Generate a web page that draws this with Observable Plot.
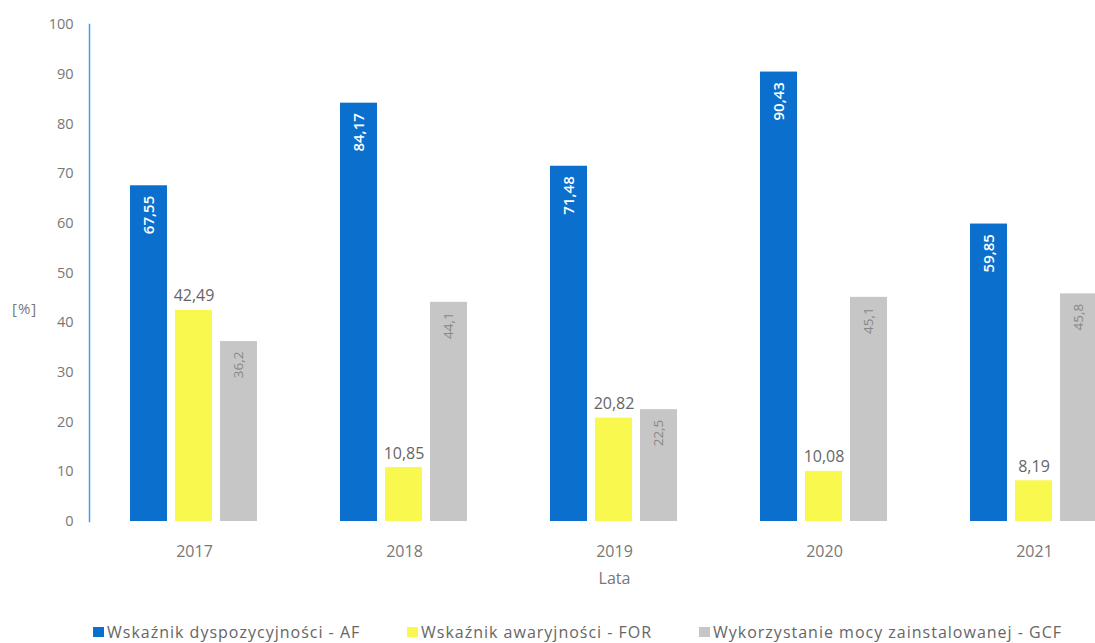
<!DOCTYPE html>
<html>
<head>
<meta charset="utf-8">
<script src="https://cdn.jsdelivr.net/npm/d3@7"></script>
<script src="https://cdn.jsdelivr.net/npm/@observablehq/plot@0.6"></script>
<style>
  body { margin: 0; background: #fff; font-family: "Open Sans", sans-serif; }
  #wrap { position: relative; width: 1095px; height: 643px; overflow: hidden; }
  #ylab { position: absolute; left: 12px; top: 298px; font-size: 15px; color: #777; letter-spacing: 1px; }
  .leg { position: absolute; top: 621px; font-size: 16px; color: #666; white-space: nowrap; display: flex; align-items: center; letter-spacing: 1px; }
  .sw { width: 11px; height: 10px; display: inline-block; margin-right: 3px; }
</style>
</head>
<body>
<div id="wrap">
  <div id="chart"></div>
  <div id="ylab">[%]</div>
  <div id="legend"></div>
</div>
<script>
const years = ["2017", "2018", "2019", "2020", "2021"];
const seriesKeys = ["AF", "FOR", "GCF"];
const seriesLabels = ["Wskaźnik dyspozycyjności - AF", "Wskaźnik awaryjności - FOR", "Wykorzystanie mocy zainstalowanej - GCF"];
const seriesColors = ["#0a6fcd", "#f8f84e", "#c6c6c6"];
const afValues = [67.55, 84.17, 71.48, 90.43, 59.85];
const forValues = [42.49, 10.85, 20.82, 10.08, 8.19];
const gcfValues = [36.2, 44.1, 22.5, 45.1, 45.8];
const yTicks = [0, 10, 20, 30, 40, 50, 60, 70, 80, 90, 100];

const valuesBySeries = {AF: afValues, FOR: forValues, GCF: gcfValues};
const data = years.flatMap((year, i) => seriesKeys.map(s => ({year, series: s, value: valuesBySeries[s][i]})));
const fmt = v => String(v).replace(".", ",");

const chart = Plot.plot({
  width: 1095,
  height: 600,
  marginTop: 24,
  marginBottom: 79,
  marginLeft: 89,
  marginRight: -44,
  style: {fontFamily: "Open Sans, sans-serif", fontSize: "14px", color: "#777", background: "transparent", overflow: "visible"},
  fx: {domain: years, paddingInner: 0, paddingOuter: 0, label: null, axis: null},
  x: {domain: seriesKeys, paddingInner: 0.17, paddingOuter: 0.87, axis: null},
  y: {domain: [0, 100], axis: null},
  color: {domain: seriesKeys, range: seriesColors},
  marks: [
    Plot.axisY({ticks: yTicks, tickSize: 0, tickPadding: 16, label: null, fontSize: 14.5, letterSpacing: 0.8}),
    Plot.axisFx({anchor: "bottom", tickSize: 0, tickPadding: 24, fontSize: 16, letterSpacing: 1.5, label: "Lata", labelAnchor: "center", labelOffset: 62}),
    Plot.barY(data, {fx: "year", x: "series", y: "value", fill: "series"}),
    Plot.frame({anchor: "left", stroke: "#3d9ff5", strokeWidth: 1.5, facetAnchor: "left"}),
    Plot.text(data.filter(d => d.series === "AF"), {fx: "year", x: "series", y: "value", text: d => fmt(d.value), rotate: -90, textAnchor: "end", dy: 10, fill: "white", fontSize: 15, fontWeight: 600, letterSpacing: 1.3}),
    Plot.text(data.filter(d => d.series === "FOR"), {fx: "year", x: "series", y: "value", text: d => fmt(d.value), lineAnchor: "bottom", dy: -9, fill: "#666", fontSize: 16, letterSpacing: 2}),
    Plot.text(data.filter(d => d.series === "GCF"), {fx: "year", x: "series", y: "value", text: d => fmt(d.value), rotate: -90, textAnchor: "end", dy: 10, fill: "#888", fontSize: 13.5, letterSpacing: 1})
  ]
});
document.getElementById("chart").appendChild(chart);

const legendLefts = [93, 407, 699];
const legend = document.getElementById("legend");
seriesKeys.forEach((k, i) => {
  const item = document.createElement("div");
  item.className = "leg";
  item.style.left = legendLefts[i] + "px";
  item.innerHTML = `<span class="sw" style="background:${seriesColors[i]}"></span>${seriesLabels[i]}`;
  legend.appendChild(item);
});
</script>
</body>
</html>
